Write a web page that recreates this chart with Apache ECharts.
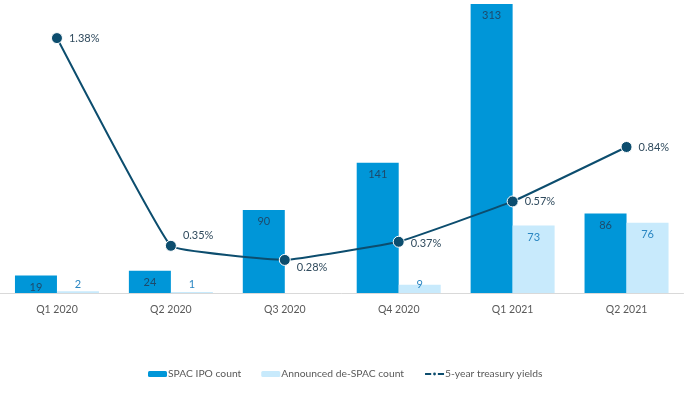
<!DOCTYPE html>
<html><head><meta charset="utf-8">
<script src="https://cdn.jsdelivr.net/npm/echarts@6/dist/echarts.min.js"></script>
<style>html,body{margin:0;padding:0;background:#fff}#c{width:700px;height:393px}</style>
</head><body><div id="c"></div>
<script>
const categories = ['Q1 2020','Q2 2020','Q3 2020','Q4 2020','Q1 2021','Q2 2021'];
const spacIpo = [19, 24, 90, 141, 313, 86];
const deSpac = [2, 1, 0, 9, 73, 76];
const yields = [1.38, 0.35, 0.28, 0.37, 0.57, 0.84];

const FONT = 'Lato';
const chart = echarts.init(document.getElementById('c'));
const lineLabelPos = [
  {position:'right', offset:[0,0]},
  {position:'right', offset:[0,-10]},
  {position:'right', offset:[0,8]},
  {position:'right', offset:[0,2]},
  {position:'right', offset:[0,0]},
  {position:'right', offset:[0,0]}
];
chart.setOption({
  animation:false,
  textStyle:{fontFamily:FONT},
  grid:{left:-1.5,right:16.5,top:4,bottom:100,containLabel:false},
  legend:{
    bottom:9, left:143,
    itemWidth:19, itemHeight:6, itemGap:20,
    textStyle:{color:'#595959',fontSize:10.3,fontFamily:FONT,padding:[0,0,0,-4]},
    data:['SPAC IPO count','Announced de-SPAC count','5-year treasury yields']
  },
  xAxis:{
    type:'category', data:categories,
    axisLine:{lineStyle:{color:'#d9d9d9',width:1}},
    axisTick:{show:false},
    axisLabel:{color:'#595959',fontSize:10.5,margin:11,fontFamily:FONT}
  },
  yAxis:[
    {type:'value',min:0,max:313,show:false,splitLine:{show:false}},
    {type:'value',min:0.116,max:1.549,show:false,splitLine:{show:false}}
  ],
  series:[
    {
      name:'SPAC IPO count', type:'bar', data:spacIpo,
      barWidth:42, barGap:'0%',
      itemStyle:{color:'#0096d8'},
      label:{show:true,position:'insideTop',distance:6,color:'#1d4a6b',fontSize:11,fontFamily:FONT}
    },
    {
      name:'Announced de-SPAC count', type:'bar', barWidth:42,
      data:deSpac.map(v=>({
        value:v,
        label: v===0 ? {show:false} : (v<15 ? {position:'insideBottom',distance:3} : {})
      })),
      itemStyle:{color:'#c8eafc'},
      label:{show:true,position:'insideTop',distance:6,color:'#2a86c2',fontSize:11,fontFamily:FONT}
    },
    {
      name:'5-year treasury yields', type:'line', yAxisIndex:1,
      data:yields.map((v,i)=>({value:v,label:lineLabelPos[i]})),
      smooth:0.08,
      symbol:'circle', symbolSize:11,
      lineStyle:{color:'#0c4d6e',width:2},
      itemStyle:{color:'#0c4d6e',borderColor:'#ffffff',borderWidth:1},
      label:{show:true,position:'right',distance:6,color:'#2f4a5d',fontSize:11,fontFamily:FONT,
        formatter:p=>p.value.toFixed(2)+'%'},
      z:5
    }
  ]
});
</script></body></html>
